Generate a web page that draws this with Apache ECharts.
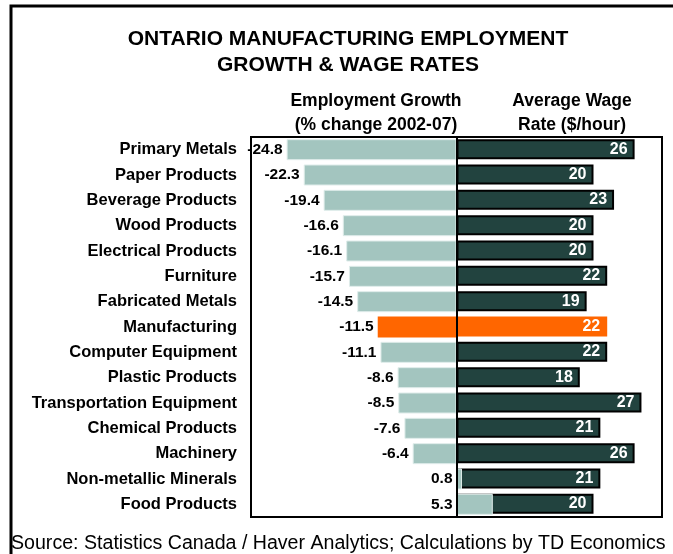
<!DOCTYPE html>
<html>
<head>
<meta charset="utf-8">
<script src="https://cdn.jsdelivr.net/npm/echarts@6/dist/echarts.min.js"></script>
<style>
  html, body { margin: 0; padding: 0; background: #fff; }
  #chart { width: 673px; height: 554px; }
</style>
</head>
<body>
<div id="chart"></div>
<script>
// Ontario manufacturing industries, top to bottom
const industries = [
  'Primary Metals', 'Paper Products', 'Beverage Products', 'Wood Products',
  'Electrical Products', 'Furniture', 'Fabricated Metals', 'Manufacturing',
  'Computer Equipment', 'Plastic Products', 'Transportation Equipment',
  'Chemical Products', 'Machinery', 'Non-metallic Minerals', 'Food Products'
];
// Employment growth, % change 2002-07
const employmentGrowth = [-24.8, -22.3, -19.4, -16.6, -16.1, -15.7, -14.5, -11.5,
  -11.1, -8.6, -8.5, -7.6, -6.4, 0.8, 5.3];
// Average wage rate, $/hour
const wageRate = [26, 20, 23, 20, 20, 22, 19, 22, 22, 18, 27, 21, 26, 21, 20];
// Row shown as the all-manufacturing total
const totalRow = 'Manufacturing';

const FONT = '"Liberation Sans", Arial, sans-serif';
const LIGHT = '#a3c5bf';
const DARK = '#22433f';
const ORANGE = '#ff6600';

const chart = echarts.init(document.getElementById('chart'), null, { renderer: 'canvas' });

const wageData = wageRate.map((v, i) => {
  const isTotal = industries[i] === totalRow;
  return {
    value: v,
    itemStyle: isTotal ? { color: ORANGE, borderWidth: 0 } : {}
  };
});
const growthData = employmentGrowth.map((v, i) => {
  const isTotal = industries[i] === totalRow;
  return {
    value: v,
    itemStyle: isTotal ? { color: ORANGE, borderWidth: 0 } : {}
  };
});

const heading = (text, x, y, size, weight) => ({
  text, left: x, top: y, textAlign: 'center',
  textStyle: { fontFamily: FONT, fontSize: size, fontWeight: weight, color: '#000' }
});

chart.setOption({
  animation: false,
  backgroundColor: '#fff',
  textStyle: { fontFamily: FONT },
  title: [
    heading('ONTARIO MANUFACTURING EMPLOYMENT', 343, 24, 21, 'bold'),
    heading('GROWTH & WAGE RATES', 343, 50, 21, 'bold'),
    heading('Employment Growth', 371, 87, 17.5, 'bold'),
    heading('(% change 2002-07)', 371, 111, 17.5, 'bold'),
    heading('Average Wage', 567, 87, 17.5, 'bold'),
    heading('Rate ($/hour)', 567, 111, 17.5, 'bold'),
    {
      text: 'Source: Statistics Canada / Haver Analytics; Calculations by TD Economics',
      left: 6, top: 529,
      textStyle: { fontFamily: FONT, fontSize: 19.6, fontWeight: 'normal', color: '#000' }
    }
  ],
  graphic: [
    {
      type: 'polyline',
      shape: { points: [[11, 600], [11, 6], [700, 6]] },
      style: { stroke: '#000', lineWidth: 3, fill: null },
      z: 10
    }
  ],
  grid: {
    left: 251, right: 11, top: 137, bottom: 37,
    show: true, borderColor: '#000', borderWidth: 2, backgroundColor: 'transparent',
    z: 5
  },
  xAxis: {
    type: 'value', min: -30, max: 30, interval: 10,
    show: false
  },
  yAxis: {
    type: 'category', data: industries, inverse: true,
    axisLine: { show: false, onZero: false },
    axisTick: { show: false },
    axisLabel: {
      margin: 14, color: '#000', fontFamily: FONT, fontSize: 16.5, fontWeight: 'bold'
    }
  },
  series: [
    {
      name: 'Average Wage Rate',
      type: 'bar',
      data: wageData,
      barWidth: 20,
      barGap: '-100%',
      itemStyle: { color: DARK, borderColor: '#000', borderWidth: 2 },
      label: {
        show: true, position: 'insideRight', distance: 7,
        color: '#fff', fontFamily: FONT, fontSize: 16, fontWeight: 'bold'
      },
      z: 2
    },
    {
      name: 'Employment Growth',
      type: 'bar',
      data: growthData,
      barWidth: 21,
      barGap: '-100%',
      itemStyle: { color: LIGHT, borderColor: '#dfecea', borderWidth: 1 },
      label: {
        show: true, position: 'left', distance: 4,
        color: '#000', fontFamily: FONT, fontSize: 15.5, fontWeight: 'bold',
        formatter: p => p.value.toFixed(1)
      },
      markLine: {
        silent: true, symbol: 'none',
        label: { show: false },
        lineStyle: { color: '#000', width: 2, type: 'solid' },
        data: [{ xAxis: 0 }]
      },
      z: 3
    }
  ]
});
</script>
</body>
</html>
